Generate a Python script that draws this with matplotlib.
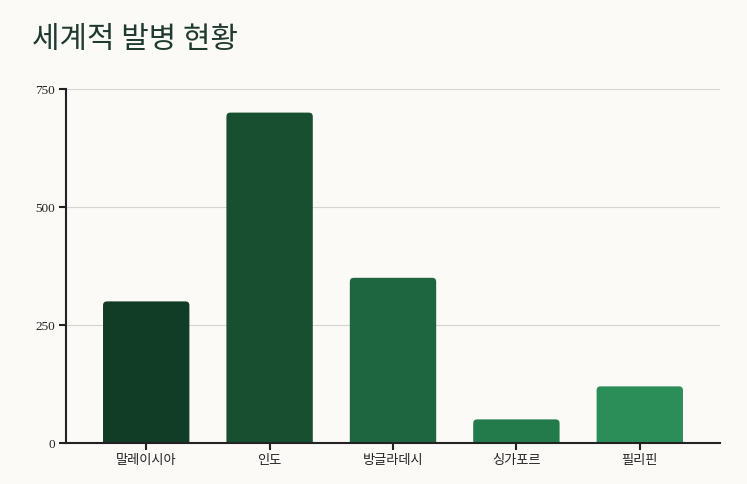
import matplotlib
matplotlib.use("Agg")
import matplotlib.pyplot as plt
from matplotlib.patches import FancyBboxPatch

countries = ["말레이시아", "인도", "방글라데시", "싱가포르", "필리핀"]
cases = [300, 700, 350, 50, 120]
bar_colors = ["#113d26", "#174f30", "#1e6640", "#237a4b", "#2b8e59"]
y_ticks = [0, 250, 500, 750]

BG = "#fbfaf6"
INK = "#222222"

plt.rcParams["font.family"] = ["Liberation Serif", "Noto Sans CJK KR"]

W, H = 747, 484
fig = plt.figure(figsize=(W / 100, H / 100), dpi=100, facecolor=BG)
ax_left, ax_right, ax_top, ax_bottom = 66, 720, 89, 443
ax = fig.add_axes([ax_left / W, 1 - ax_bottom / H,
                   (ax_right - ax_left) / W, (ax_bottom - ax_top) / H])
ax.set_facecolor(BG)

xmin, xmax = -0.65, len(countries) - 0.35
ymin, ymax = 0, 750
ax.set_xlim(xmin, xmax)
ax.set_ylim(ymin, ymax)

# rounded top corners: radius in pixels converted to data units
px_x = (xmax - xmin) / (ax_right - ax_left)
px_y = (ymax - ymin) / (ax_bottom - ax_top)
radius = 4
width = 0.7
for i, (v, c) in enumerate(zip(cases, bar_colors)):
    extra = radius * px_y
    box = FancyBboxPatch((i - width / 2, -extra), width, v + extra,
                         boxstyle=f"round,pad=0,rounding_size={radius * px_x}",
                         mutation_aspect=px_y / px_x,
                         facecolor=c, edgecolor="none", zorder=3)
    ax.add_patch(box)

ax.set_yticks(y_ticks)
ax.set_yticklabels([str(t) for t in y_ticks], fontsize=9.5, color=INK)
ax.set_xticks(range(len(countries)))
ax.set_xticklabels(countries, fontsize=9.5, color=INK,
                   family=["Noto Sans CJK KR"])
ax.grid(axis="y", color="#d6d6cf", linewidth=0.8, zorder=0)
ax.set_axisbelow(True)

for side in ["top", "right"]:
    ax.spines[side].set_visible(False)
for side in ["left", "bottom"]:
    ax.spines[side].set_color(INK)
    ax.spines[side].set_linewidth(1.5)
    ax.spines[side].set_zorder(4)
ax.tick_params(axis="both", length=5, width=1.5, color=INK, pad=3)

fig.text(32 / W, 1 - 39 / H, "세계적 발병 현황", fontsize=21.5, color="#1f3a2e",
         family=["Noto Sans CJK KR"], va="center", ha="left")

fig.savefig("out.png", dpi=100, facecolor=BG)
